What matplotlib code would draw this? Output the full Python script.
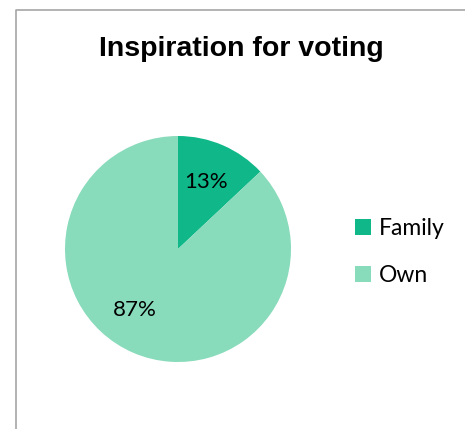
import matplotlib
matplotlib.use("Agg")
import matplotlib.pyplot as plt
from matplotlib.lines import Line2D
import numpy as np

categories = ["Family", "Own"]
values = [13, 87]
colors = ["#10B889", "#88DBBB"]
title = "Inspiration for voting"

W, H = 465, 429
fig = plt.figure(figsize=(W/100, H/100), dpi=100)

# chart frame (left and top border)
fx = 15.5 / W
fy = 1 - 9.5 / H
fig.add_artist(Line2D([fx, fx, 1.0], [0.0, fy, fy], color="#a6a6a6", lw=1.2, transform=fig.transFigure))

ax = fig.add_axes([65/W, (H-362)/H, 226/W, 226/H])
wedges, texts, autotexts = ax.pie(values, colors=colors, startangle=90, counterclock=False,
                                  autopct="%1.0f%%", pctdistance=0.68,
                                  textprops=dict(fontsize=16, family=["Lato", "DejaVu Sans"], color="black"),
                                  wedgeprops=dict(linewidth=0))
ax.set_xlim(-1, 1)
ax.set_ylim(-1, 1)
ax.set_aspect("equal")
autotexts[0].set_position((0.25, 0.59))
autotexts[1].set_position((-0.385, -0.54))

fig.text(241/W, 1 - 49/H, title, ha="center", va="center", fontsize=20.5, fontweight="bold",
         family=["Liberation Sans", "DejaVu Sans"])

leg = fig.legend(wedges, categories, loc="center left", bbox_to_anchor=(334/W, 1 - 252/H),
                 frameon=False, prop=dict(family=["Lato", "DejaVu Sans"], size=16.5),
                 handlelength=0.7, handleheight=0.7, handletextpad=0.35, labelspacing=1.1)

fig.savefig("out.png", dpi=100)
